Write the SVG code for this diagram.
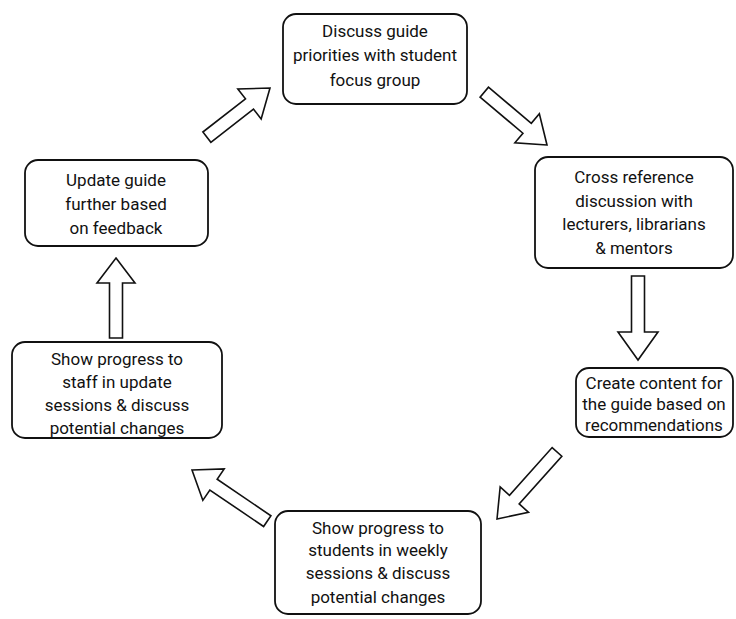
<svg xmlns="http://www.w3.org/2000/svg" width="736" height="619" viewBox="0 0 736 619">
<style>
.box{fill:#fff;stroke:#111;stroke-width:1.8}
.arr{fill:#fff;stroke:#111;stroke-width:1.6;stroke-linejoin:miter}
text{font-family:Roboto,"Liberation Sans",sans-serif;font-size:17px;fill:#111;text-anchor:middle;dominant-baseline:central}
</style>
<rect width="736" height="619" fill="#fff"/>
<g id="connectors">
<polygon class="arr" transform="translate(270,88) rotate(52.1)" points="0,0 19,26 6.5,26 6.5,80 -6.5,80 -6.5,26 -19,26"/>
<polygon class="arr" transform="translate(547,145) rotate(130.1)" points="0,0 19,26 6.5,26 6.5,82 -6.5,82 -6.5,26 -19,26"/>
<polygon class="arr" transform="translate(638,360) rotate(180)" points="0,0 20,28 6.5,28 6.5,84 -6.5,84 -6.5,28 -20,28"/>
<polygon class="arr" transform="translate(497,519) rotate(-138.2)" points="0,0 19,26 6.5,26 6.5,90 -6.5,90 -6.5,26 -19,26"/>
<polygon class="arr" transform="translate(192,470) rotate(-55.8)" points="0,0 19,26 6.5,26 6.5,91 -6.5,91 -6.5,26 -19,26"/>
<polygon class="arr" transform="translate(116,258) rotate(0)" points="0,0 19,25 6.5,25 6.5,80 -6.5,80 -6.5,25 -19,25"/>
</g>
<g id="n1">
<rect class="box" x="283" y="14" width="184" height="90" rx="13"/>
<text x="375" y="31">Discuss guide</text>
<text x="375" y="55">priorities with student</text>
<text x="375" y="80">focus group</text>
</g>
<g id="n2">
<rect class="box" x="535" y="157" width="198" height="111" rx="13"/>
<text x="634" y="177">Cross reference</text>
<text x="634" y="201">discussion with</text>
<text x="634" y="224">lecturers, librarians</text>
<text x="634" y="248">&amp; mentors</text>
</g>
<g id="n3">
<rect class="box" x="576" y="368" width="157" height="69" rx="13"/>
<text x="654" y="383">Create content for</text>
<text x="654" y="404">the guide based on</text>
<text x="654" y="425">recommendations</text>
</g>
<g id="n4">
<rect class="box" x="275" y="511" width="206" height="103" rx="13"/>
<text x="378" y="528">Show progress to</text>
<text x="378" y="550">students in weekly</text>
<text x="378" y="573">sessions &amp; discuss</text>
<text x="378" y="597">potential changes</text>
</g>
<g id="n5">
<rect class="box" x="12" y="342" width="210" height="96" rx="13"/>
<text x="117" y="359">Show progress to</text>
<text x="117" y="382">staff in update</text>
<text x="117" y="405">sessions &amp; discuss</text>
<text x="117" y="428">potential changes</text>
</g>
<g id="n6">
<rect class="box" x="25" y="160" width="183" height="86" rx="13"/>
<text x="116" y="180">Update guide</text>
<text x="116" y="204">further based</text>
<text x="116" y="228">on feedback</text>
</g>
</svg>
